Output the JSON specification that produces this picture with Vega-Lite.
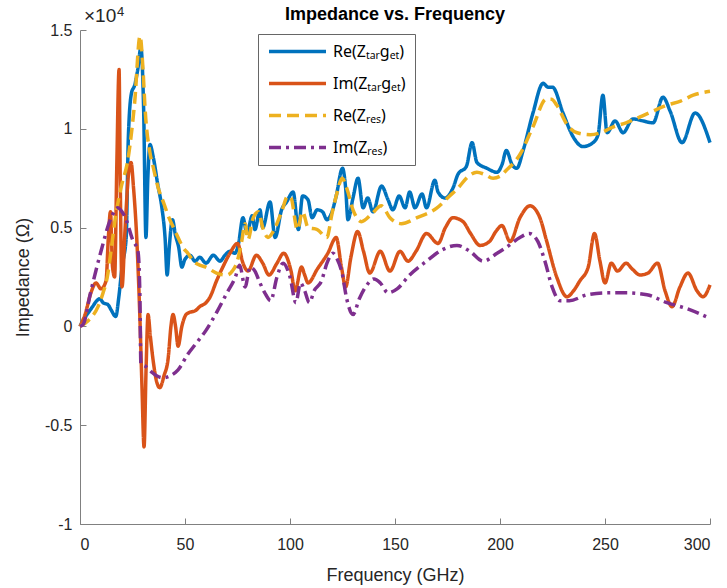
{
  "$schema": "https://vega.github.io/schema/vega-lite/v6.json",
  "width": 630,
  "height": 494,
  "autosize": {"type": "none"},
  "padding": {"left": 80, "top": 30, "right": 17, "bottom": 64},
  "background": "white",
  "config": {
    "font": "Liberation Sans",
    "view": {"stroke": null},
    "axis": {
      "grid": false,
      "domainColor": "#808080",
      "domainWidth": 1,
      "tickColor": "#808080",
      "tickWidth": 1,
      "tickSize": -6,
      "labelColor": "#262626",
      "labelFontSize": 16,
      "titleColor": "#262626",
      "titleFontSize": 18,
      "titleFontWeight": "normal"
    },
    "legend": {
      "orient": "none",
      "legendX": 178,
      "legendY": 4,
      "strokeColor": "#666666",
      "fillColor": "white",
      "padding": 9,
      "rowPadding": 15,
      "clipHeight": 17,
      "symbolType": "stroke",
      "symbolSize": 3249,
      "symbolStrokeWidth": 3.5,
      "labelFont": "Noto Sans",
      "labelFontSize": 16,
      "labelColor": "#000000",
      "labelOffset": 5,
      "labelLimit": 300
    }
  },
  "title": {"text": "Impedance vs. Frequency", "fontSize": 18, "fontWeight": "bold", "color": "#000000", "anchor": "middle", "frame": "group", "baseline": "alphabetic", "offset": 0, "dy": 32},
  "datasets": {
    "reT": [
      {"f":0,"v":0},{"f":2,"v":0.04},{"f":4,"v":0.07},{"f":6,"v":0.1},{"f":8,"v":0.13},{"f":9.5,"v":0.14},{"f":11,"v":0.12},{"f":13.3,"v":0.11},{"f":15,"v":0.08},{"f":17,"v":0.05},{"f":18.5,"v":0.15},{"f":20,"v":0.3},{"f":22,"v":0.45},{"f":23,"v":0.95},{"f":24.5,"v":1.18},{"f":26,"v":1.22},{"f":27.5,"v":1.3},{"f":29,"v":1.41},{"f":30.3,"v":1.1},{"f":31.4,"v":0.45},{"f":32.3,"v":0.75},{"f":33.3,"v":0.92},{"f":35,"v":0.85},{"f":37,"v":0.72},{"f":39,"v":0.6},{"f":40.5,"v":0.45},{"f":41.5,"v":0.26},{"f":42.5,"v":0.4},{"f":44,"v":0.54},{"f":45.5,"v":0.46},{"f":47,"v":0.4},{"f":48.5,"v":0.3},{"f":50,"v":0.34},{"f":52.4,"v":0.36},{"f":54.8,"v":0.33},{"f":57,"v":0.35},{"f":60,"v":0.32},{"f":63.5,"v":0.36},{"f":66.7,"v":0.33},{"f":69,"v":0.36},{"f":71.4,"v":0.38},{"f":73.8,"v":0.37},{"f":75.5,"v":0.42},{"f":77.6,"v":0.55},{"f":79.5,"v":0.47},{"f":82,"v":0.56},{"f":83.3,"v":0.49},{"f":85.7,"v":0.59},{"f":87,"v":0.5},{"f":90.5,"v":0.63},{"f":92.9,"v":0.45},{"f":96,"v":0.59},{"f":98.4,"v":0.63},{"f":101.5,"v":0.68},{"f":104,"v":0.49},{"f":106,"v":0.66},{"f":108.6,"v":0.64},{"f":110.5,"v":0.55},{"f":113,"v":0.59},{"f":115.5,"v":0.58},{"f":117.6,"v":0.54},{"f":120,"v":0.58},{"f":122,"v":0.66},{"f":125,"v":0.8},{"f":126.5,"v":0.7},{"f":127.6,"v":0.54},{"f":130,"v":0.65},{"f":132.4,"v":0.75},{"f":134.8,"v":0.6},{"f":137,"v":0.65},{"f":139.5,"v":0.58},{"f":143.6,"v":0.71},{"f":146.7,"v":0.64},{"f":149,"v":0.59},{"f":152,"v":0.66},{"f":154.8,"v":0.6},{"f":157,"v":0.68},{"f":159.5,"v":0.6},{"f":162.9,"v":0.67},{"f":165,"v":0.6},{"f":169,"v":0.74},{"f":170.5,"v":0.68},{"f":173.8,"v":0.65},{"f":177.6,"v":0.7},{"f":180,"v":0.77},{"f":184,"v":0.81},{"f":186.7,"v":0.93},{"f":189,"v":0.83},{"f":193.8,"v":0.8},{"f":198.6,"v":0.78},{"f":201,"v":0.82},{"f":203,"v":0.89},{"f":205.7,"v":0.82},{"f":208,"v":0.8},{"f":211,"v":0.89},{"f":215.7,"v":1.08},{"f":220.5,"v":1.23},{"f":223,"v":1.21},{"f":225,"v":1.21},{"f":230,"v":1.08},{"f":234.8,"v":0.96},{"f":239.5,"v":0.91},{"f":244.3,"v":0.93},{"f":246.7,"v":0.97},{"f":249,"v":1.17},{"f":251,"v":0.98},{"f":254.8,"v":1.04},{"f":258.6,"v":0.98},{"f":263.3,"v":1.05},{"f":268,"v":1.04},{"f":272.9,"v":1.03},{"f":277.6,"v":1.16},{"f":281,"v":1.09},{"f":286.7,"v":0.93},{"f":292.9,"v":1.08},{"f":300,"v":0.93}
    ],
    "imT": [
      {"f":0,"v":0},{"f":2.4,"v":0.06},{"f":5.2,"v":0.17},{"f":7.6,"v":0.22},{"f":10,"v":0.19},{"f":12.4,"v":0.23},{"f":13.5,"v":0.45},{"f":14.5,"v":0.58},{"f":15.5,"v":0.3},{"f":16.5,"v":0.25},{"f":17.5,"v":0.8},{"f":18.6,"v":1.3},{"f":19.2,"v":0.7},{"f":20,"v":0.2},{"f":21.5,"v":0.5},{"f":23,"v":0.76},{"f":24.3,"v":0.83},{"f":25.5,"v":0.7},{"f":27,"v":0.45},{"f":28.5,"v":0.05},{"f":29.5,"v":-0.3},{"f":30.5,"v":-0.61},{"f":31.5,"v":-0.2},{"f":32.4,"v":0.06},{"f":33.5,"v":-0.05},{"f":34.8,"v":-0.17},{"f":36.5,"v":-0.28},{"f":38,"v":-0.31},{"f":40,"v":-0.25},{"f":42,"v":-0.16},{"f":43.3,"v":0},{"f":44.3,"v":0.06},{"f":45.5,"v":0},{"f":46.7,"v":-0.1},{"f":48.5,"v":0},{"f":50.5,"v":0.06},{"f":52,"v":0.07},{"f":55,"v":0.08},{"f":57,"v":0.1},{"f":60,"v":0.12},{"f":62,"v":0.15},{"f":65,"v":0.23},{"f":68,"v":0.3},{"f":71.4,"v":0.37},{"f":75,"v":0.42},{"f":77.6,"v":0.32},{"f":80,"v":0.28},{"f":84,"v":0.36},{"f":87,"v":0.32},{"f":90,"v":0.26},{"f":93.8,"v":0.32},{"f":97,"v":0.37},{"f":100.5,"v":0.28},{"f":102.4,"v":0.18},{"f":105.5,"v":0.3},{"f":107,"v":0.26},{"f":108.6,"v":0.22},{"f":113,"v":0.29},{"f":118,"v":0.37},{"f":122,"v":0.45},{"f":124.5,"v":0.3},{"f":126.5,"v":0.2},{"f":129,"v":0.35},{"f":132.2,"v":0.48},{"f":135,"v":0.38},{"f":138,"v":0.27},{"f":143,"v":0.38},{"f":147.6,"v":0.28},{"f":152.4,"v":0.38},{"f":156.2,"v":0.33},{"f":160,"v":0.38},{"f":165,"v":0.47},{"f":170.5,"v":0.42},{"f":174,"v":0.5},{"f":177.6,"v":0.55},{"f":182.4,"v":0.53},{"f":186,"v":0.47},{"f":190.5,"v":0.41},{"f":195,"v":0.43},{"f":198,"v":0.48},{"f":200.9,"v":0.51},{"f":204.8,"v":0.43},{"f":209.5,"v":0.55},{"f":214.3,"v":0.61},{"f":219,"v":0.55},{"f":222,"v":0.44},{"f":227,"v":0.25},{"f":231.9,"v":0.15},{"f":235,"v":0.18},{"f":238,"v":0.23},{"f":242,"v":0.3},{"f":245,"v":0.47},{"f":247.6,"v":0.33},{"f":250,"v":0.22},{"f":253,"v":0.32},{"f":256,"v":0.28},{"f":260,"v":0.32},{"f":263,"v":0.29},{"f":266.7,"v":0.26},{"f":270.5,"v":0.27},{"f":275,"v":0.32},{"f":278.6,"v":0.18},{"f":281.9,"v":0.1},{"f":285.7,"v":0.2},{"f":289.5,"v":0.27},{"f":293.8,"v":0.18},{"f":296.7,"v":0.15},{"f":300,"v":0.21}
    ],
    "reR": [
      {"f":0,"v":0},{"f":4,"v":0.03},{"f":8.6,"v":0.1},{"f":11,"v":0.17},{"f":13,"v":0.25},{"f":15,"v":0.4},{"f":16.7,"v":0.54},{"f":19.5,"v":0.7},{"f":22.9,"v":0.85},{"f":26,"v":1.13},{"f":28.6,"v":1.47},{"f":30,"v":1.3},{"f":31,"v":1.1},{"f":33.3,"v":0.88},{"f":35,"v":0.8},{"f":37,"v":0.71},{"f":40,"v":0.62},{"f":42,"v":0.56},{"f":44.5,"v":0.5},{"f":46.7,"v":0.45},{"f":49,"v":0.4},{"f":51.4,"v":0.37},{"f":54,"v":0.33},{"f":57,"v":0.31},{"f":60,"v":0.3},{"f":65,"v":0.27},{"f":70,"v":0.26},{"f":72.5,"v":0.28},{"f":74.6,"v":0.32},{"f":77,"v":0.43},{"f":78.6,"v":0.52},{"f":80,"v":0.44},{"f":82.5,"v":0.55},{"f":85,"v":0.58},{"f":87,"v":0.5},{"f":89.5,"v":0.45},{"f":92,"v":0.48},{"f":96,"v":0.58},{"f":99,"v":0.66},{"f":100.5,"v":0.65},{"f":103.5,"v":0.49},{"f":106,"v":0.58},{"f":108.6,"v":0.5},{"f":113,"v":0.49},{"f":117.5,"v":0.45},{"f":120,"v":0.57},{"f":122.5,"v":0.68},{"f":124.8,"v":0.75},{"f":127,"v":0.7},{"f":130,"v":0.59},{"f":134,"v":0.53},{"f":139,"v":0.57},{"f":143.5,"v":0.61},{"f":147.6,"v":0.55},{"f":153,"v":0.52},{"f":160.5,"v":0.55},{"f":170,"v":0.6},{"f":176,"v":0.66},{"f":180,"v":0.7},{"f":185,"v":0.76},{"f":189,"v":0.78},{"f":192.5,"v":0.77},{"f":196.7,"v":0.75},{"f":200,"v":0.76},{"f":203,"v":0.79},{"f":209.5,"v":0.87},{"f":215.7,"v":1.01},{"f":222,"v":1.15},{"f":224.5,"v":1.15},{"f":227,"v":1.12},{"f":232,"v":1.02},{"f":236.7,"v":0.98},{"f":243,"v":0.97},{"f":248,"v":0.98},{"f":254,"v":1.01},{"f":260,"v":1.03},{"f":266.7,"v":1.06},{"f":273,"v":1.09},{"f":279.5,"v":1.12},{"f":286,"v":1.14},{"f":292,"v":1.17},{"f":300,"v":1.19}
    ],
    "imR": [
      {"f":0,"v":0},{"f":1.5,"v":0.01},{"f":5,"v":0.17},{"f":10,"v":0.38},{"f":14.8,"v":0.55},{"f":18,"v":0.6},{"f":20,"v":0.58},{"f":22,"v":0.54},{"f":25,"v":0.44},{"f":27.6,"v":0.38},{"f":28.5,"v":0.17},{"f":29,"v":-0.19},{"f":31,"v":-0.2},{"f":34,"v":-0.23},{"f":36.5,"v":-0.25},{"f":39.5,"v":-0.26},{"f":43,"v":-0.25},{"f":46.7,"v":-0.22},{"f":51.4,"v":-0.14},{"f":55,"v":-0.09},{"f":60,"v":-0.02},{"f":65,"v":0.07},{"f":70,"v":0.17},{"f":74,"v":0.25},{"f":76,"v":0.31},{"f":78.6,"v":0.2},{"f":81,"v":0.3},{"f":83.3,"v":0.28},{"f":85.7,"v":0.22},{"f":88,"v":0.17},{"f":90.8,"v":0.13},{"f":93.8,"v":0.25},{"f":96.7,"v":0.32},{"f":100,"v":0.25},{"f":102.8,"v":0.12},{"f":105,"v":0.22},{"f":107,"v":0.18},{"f":109.2,"v":0.12},{"f":111.5,"v":0.18},{"f":115,"v":0.23},{"f":117.6,"v":0.32},{"f":120.5,"v":0.37},{"f":122.5,"v":0.34},{"f":124.8,"v":0.27},{"f":127,"v":0.14},{"f":130,"v":0.06},{"f":133,"v":0.14},{"f":136,"v":0.2},{"f":140,"v":0.24},{"f":143,"v":0.22},{"f":146.7,"v":0.17},{"f":151,"v":0.19},{"f":157,"v":0.26},{"f":165,"v":0.33},{"f":172.9,"v":0.39},{"f":179.5,"v":0.41},{"f":185.7,"v":0.38},{"f":192,"v":0.33},{"f":198.6,"v":0.37},{"f":203,"v":0.4},{"f":209.5,"v":0.45},{"f":214,"v":0.47},{"f":218,"v":0.43},{"f":221.4,"v":0.33},{"f":224.8,"v":0.2},{"f":228.6,"v":0.13},{"f":233,"v":0.13},{"f":241.4,"v":0.16},{"f":251,"v":0.17},{"f":260.5,"v":0.17},{"f":270,"v":0.16},{"f":279.5,"v":0.12},{"f":289,"v":0.09},{"f":300,"v":0.04}
    ],
    "note": [{"a": "×10", "b": "4"}]
  },
  "layer": [
    {
      "data": {"name": "reT"},
      "mark": {"type": "line", "interpolate": "monotone", "strokeWidth": 3.5},
      "encoding": {
        "x": {
          "field": "f", "type": "quantitative",
          "scale": {"domain": [0, 300], "nice": false, "zero": false},
          "axis": {"title": "Frequency (GHz)", "values": [0, 50, 100, 150, 200, 250, 300], "labelPadding": 18, "titleY": 51, "titleBaseline": "middle"}
        },
        "y": {
          "field": "v", "type": "quantitative",
          "scale": {"domain": [-1, 1.5], "nice": false, "zero": false},
          "axis": {"title": "Impedance (Ω)", "values": [-1, -0.5, 0, 0.5, 1, 1.5], "labelExpr": "'' + datum.value", "labelPadding": 14, "titleX": -57, "titleBaseline": "middle"}
        },
        "color": {"datum": "Re(Zₜₐᵣgₑₜ)", "type": "nominal", "scale": {"domain": ["Re(Zₜₐᵣgₑₜ)", "Im(Zₜₐᵣgₑₜ)", "Re(Zᵣₑₛ)", "Im(Zᵣₑₛ)"], "range": ["#0072BD", "#D95319", "#EDB120", "#7E2F8E"]}, "legend": {"title": null}},
        "strokeDash": {"datum": "Re(Zₜₐᵣgₑₜ)", "type": "nominal", "scale": {"domain": ["Re(Zₜₐᵣgₑₜ)", "Im(Zₜₐᵣgₑₜ)", "Re(Zᵣₑₛ)", "Im(Zᵣₑₛ)"], "range": [[1, 0], [1, 0], [12, 6], [12, 5, 3, 5]]}, "legend": {"title": null}}
      }
    },
    {
      "data": {"name": "imT"},
      "mark": {"type": "line", "interpolate": "monotone", "strokeWidth": 3.5},
      "encoding": {
        "x": {"field": "f", "type": "quantitative"},
        "y": {"field": "v", "type": "quantitative"},
        "color": {"datum": "Im(Zₜₐᵣgₑₜ)", "type": "nominal"},
        "strokeDash": {"datum": "Im(Zₜₐᵣgₑₜ)", "type": "nominal"}
      }
    },
    {
      "data": {"name": "reR"},
      "mark": {"type": "line", "interpolate": "monotone", "strokeWidth": 3.5},
      "encoding": {
        "x": {"field": "f", "type": "quantitative"},
        "y": {"field": "v", "type": "quantitative"},
        "color": {"datum": "Re(Zᵣₑₛ)", "type": "nominal"},
        "strokeDash": {"datum": "Re(Zᵣₑₛ)", "type": "nominal"}
      }
    },
    {
      "data": {"name": "imR"},
      "mark": {"type": "line", "interpolate": "monotone", "strokeWidth": 3.5},
      "encoding": {
        "x": {"field": "f", "type": "quantitative"},
        "y": {"field": "v", "type": "quantitative"},
        "color": {"datum": "Im(Zᵣₑₛ)", "type": "nominal"},
        "strokeDash": {"datum": "Im(Zᵣₑₛ)", "type": "nominal"}
      }
    },
    {
      "data": {"name": "note"},
      "mark": {"type": "text", "align": "left", "baseline": "alphabetic", "dx": 4, "dy": -8, "fontSize": 19, "fill": "#262626", "invalid": null},
      "encoding": {
        "x": {"datum": 0, "type": "quantitative"},
        "y": {"datum": 1.5, "type": "quantitative"},
        "text": {"field": "a", "type": "nominal"}
      }
    },
    {
      "data": {"name": "note"},
      "mark": {"type": "text", "align": "left", "baseline": "alphabetic", "dx": 37, "dy": -14, "fontSize": 13, "fill": "#262626", "invalid": null},
      "encoding": {
        "x": {"datum": 0, "type": "quantitative"},
        "y": {"datum": 1.5, "type": "quantitative"},
        "text": {"field": "b", "type": "nominal"}
      }
    }
  ]
}
